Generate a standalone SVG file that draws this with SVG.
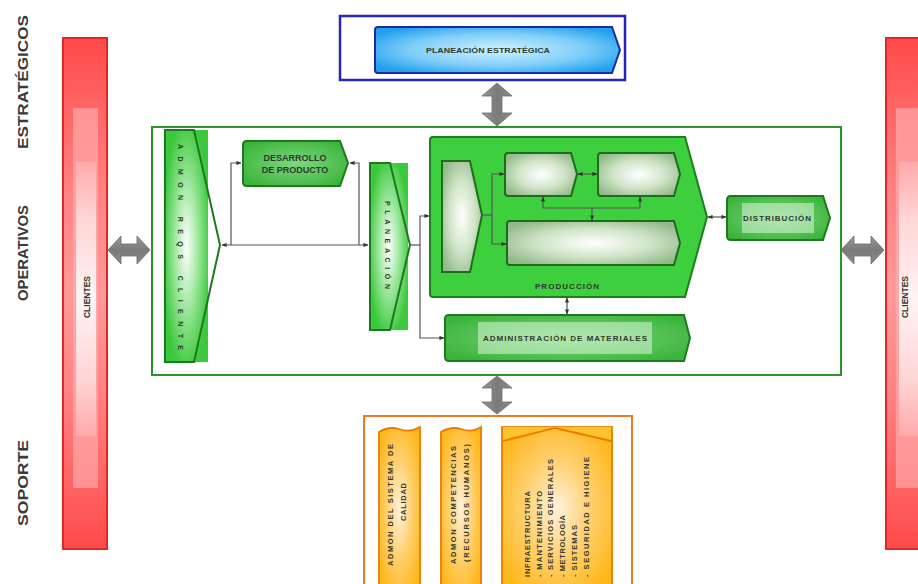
<svg xmlns="http://www.w3.org/2000/svg" width="918" height="584" viewBox="0 0 918 584">
  <style>
    .lbl { font-family: "Liberation Sans", Arial, sans-serif; font-weight: bold; fill: #2f3a2f; }
    .side { font-family: "Liberation Sans", Arial, sans-serif; font-weight: bold; font-size: 15px; fill: #3a3a3a; }
    .con { fill: none; stroke: #555; stroke-width: 1.2; marker-start: url(#tip); marker-end: url(#tip); }
    .conp { fill: none; stroke: #555; stroke-width: 1.2; }
    .gbox { stroke: #1c7a1c; stroke-width: 2; }
    .gray { fill: url(#grayArrow); stroke: #6a6a6a; stroke-width: 0.8; }
    .orng { fill: url(#orangeFill); stroke: #ec7a00; stroke-width: 1.8; }
  </style>
  <defs>
    <marker id="tip" viewBox="0 0 6 6" refX="5.5" refY="3" markerWidth="5" markerHeight="5" orient="auto-start-reverse" markerUnits="userSpaceOnUse">
      <path d="M0,0.5 L6,3 L0,5.5 Z" fill="#333"/>
    </marker>
    <linearGradient id="redBar" x1="0" y1="0" x2="0" y2="1">
      <stop offset="0" stop-color="#ff4a4a"/>
      <stop offset="0.12" stop-color="#ff6262"/>
      <stop offset="0.3" stop-color="#ff8282"/>
      <stop offset="0.5" stop-color="#ff9a9a"/>
      <stop offset="0.7" stop-color="#ff8282"/>
      <stop offset="0.88" stop-color="#ff6262"/>
      <stop offset="1" stop-color="#ff4a4a"/>
    </linearGradient>
    <linearGradient id="redGlow" x1="0" y1="0" x2="0" y2="1">
      <stop offset="0" stop-color="#ffd0d0" stop-opacity="0.3"/>
      <stop offset="0.2" stop-color="#ffdede" stop-opacity="0.85"/>
      <stop offset="0.5" stop-color="#fff4f4" stop-opacity="1"/>
      <stop offset="0.8" stop-color="#ffdede" stop-opacity="0.85"/>
      <stop offset="1" stop-color="#ffd0d0" stop-opacity="0.3"/>
    </linearGradient>
    <linearGradient id="grayArrow" x1="0" y1="0" x2="0" y2="1">
      <stop offset="0" stop-color="#9a9a9a"/>
      <stop offset="0.5" stop-color="#7a7a7a"/>
      <stop offset="1" stop-color="#8c8c8c"/>
    </linearGradient>
    <linearGradient id="grayArrowV" x1="0" y1="0" x2="1" y2="0">
      <stop offset="0" stop-color="#9a9a9a"/>
      <stop offset="0.5" stop-color="#7a7a7a"/>
      <stop offset="1" stop-color="#8c8c8c"/>
    </linearGradient>
    <radialGradient id="blueFill" cx="0.5" cy="0.5" r="0.6">
      <stop offset="0" stop-color="#d4f2ff"/>
      <stop offset="0.6" stop-color="#7ccdf8"/>
      <stop offset="1" stop-color="#22a0ec"/>
    </radialGradient>
    <radialGradient id="greenGlow" cx="0.5" cy="0.5" r="0.55">
      <stop offset="0" stop-color="#ffffff"/>
      <stop offset="0.45" stop-color="#a6eaa6"/>
      <stop offset="1" stop-color="#3cc83c"/>
    </radialGradient>
    <radialGradient id="greenBox" cx="0.5" cy="0.5" r="0.6">
      <stop offset="0" stop-color="#7ed87e"/>
      <stop offset="1" stop-color="#3cb43c"/>
    </radialGradient>
    <radialGradient id="paleBox" cx="0.5" cy="0.5" r="0.6">
      <stop offset="0" stop-color="#ffffff"/>
      <stop offset="0.55" stop-color="#cfe3c6"/>
      <stop offset="1" stop-color="#93b98a"/>
    </radialGradient>
    <radialGradient id="orangeFill" cx="0.5" cy="0.5" r="0.6">
      <stop offset="0" stop-color="#fff2dc"/>
      <stop offset="0.5" stop-color="#ffd070"/>
      <stop offset="1" stop-color="#ffb81c"/>
    </radialGradient>
  </defs>

  <rect width="918" height="584" fill="#ffffff"/>

  <!-- row titles -->
  <g id="row-labels">
    <text class="side" transform="translate(27.5,82) rotate(-90)" text-anchor="middle" textLength="134" lengthAdjust="spacingAndGlyphs">ESTRATÉGICOS</text>
    <text class="side" transform="translate(27.5,253) rotate(-90)" text-anchor="middle" textLength="96" lengthAdjust="spacingAndGlyphs">OPERATIVOS</text>
    <text class="side" transform="translate(27.5,483) rotate(-90)" text-anchor="middle" textLength="86" lengthAdjust="spacingAndGlyphs">SOPORTE</text>
  </g>

  <!-- customers, left -->
  <g id="clientes-izq">
    <rect x="63" y="38" width="44" height="511" fill="url(#redBar)" stroke="#e02828" stroke-width="2"/>
    <rect x="73" y="108" width="25" height="380" fill="#ffb2b2" opacity="0.6"/>
    <rect x="76" y="162" width="20" height="274" fill="url(#redGlow)"/>
    <text class="lbl" font-size="8.5" transform="translate(90,297) rotate(-90)" text-anchor="middle" fill="#333">CLIENTES</text>
  </g>

  <!-- customers, right -->
  <g id="clientes-der">
    <rect x="886" y="38" width="44" height="511" fill="url(#redBar)" stroke="#e02828" stroke-width="2"/>
    <rect x="896" y="108" width="25" height="380" fill="#ffb2b2" opacity="0.6"/>
    <rect x="899" y="162" width="20" height="274" fill="url(#redGlow)"/>
    <text class="lbl" font-size="8.5" transform="translate(908,297) rotate(-90)" text-anchor="middle" fill="#333">CLIENTES</text>
  </g>

  <!-- strategic planning -->
  <g id="estrategicos">
    <rect x="340" y="16" width="285" height="64" fill="#ffffff" stroke="#2424c4" stroke-width="2.5"/>
    <path d="M378,27 H612 L620,50 L612,73 H378 Q375,73 375,70 V30 Q375,27 378,27 Z" fill="url(#blueFill)" stroke="#1a2aa8" stroke-width="2"/>
    <text class="lbl" font-size="7" x="488" y="53" text-anchor="middle" textLength="124" lengthAdjust="spacingAndGlyphs" fill="#243a50">PLANEACIÓN ESTRATÉGICA</text>
  </g>

  <!-- operative frame -->
  <g id="operativos">
    <rect x="152" y="127" width="689" height="248" fill="#ffffff" stroke="#2a962a" stroke-width="2"/>
  </g>

  <g id="admon-reqs-cliente">
    <rect x="165" y="130" width="43" height="232" fill="url(#greenGlow)"/>
    <path d="M165,130 H194 L220,245 L194,362 H165 Z" fill="none" class="gbox"/>
    <text class="lbl" font-size="7" transform="translate(177.5,247) rotate(90)" text-anchor="middle" textLength="206" lengthAdjust="spacing" fill="#2a3a2a">ADMON REQS CLIENTE</text>
  </g>

  <g id="desarrollo-producto">
    <path d="M247,141 H340 L348,163 L340,186 H247 Q243,186 243,182 V145 Q243,141 247,141 Z" fill="url(#greenBox)" class="gbox"/>
    <text class="lbl" font-size="9" x="295" y="161" text-anchor="middle" fill="#2e3e2e">DESARROLLO</text>
    <text class="lbl" font-size="9" x="295" y="173" text-anchor="middle" fill="#2e3e2e">DE PRODUCTO</text>
  </g>

  <g id="planeacion">
    <rect x="370" y="163" width="38" height="167" fill="url(#greenGlow)"/>
    <path d="M370,163 H390 L410,245 L390,330 H370 Z" fill="none" class="gbox"/>
    <text class="lbl" font-size="7" transform="translate(384.5,245) rotate(90)" text-anchor="middle" textLength="88" lengthAdjust="spacing" fill="#2a3a2a">PLANEACIÓN</text>
  </g>

  <g id="produccion">
    <path d="M433,137 H685 L707,217 L685,297 H433 Q430,297 430,294 V140 Q430,137 433,137 Z" fill="#3ecf3e" stroke="#1c801c" stroke-width="2"/>
    <path d="M442,161 H470 L482,215 L470,272 H442 Z" fill="url(#paleBox)" stroke="#1c6e1c" stroke-width="2"/>
    <path d="M508,153 H571 L577,174 L571,196 H508 Q505,196 505,193 V156 Q505,153 508,153 Z" fill="url(#paleBox)" stroke="#1c6e1c" stroke-width="2"/>
    <path d="M601,153 H674 L680,174 L674,196 H601 Q598,196 598,193 V156 Q598,153 601,153 Z" fill="url(#paleBox)" stroke="#1c6e1c" stroke-width="2"/>
    <path d="M510,221 H674 L680,243 L674,265 H510 Q507,265 507,262 V224 Q507,221 510,221 Z" fill="url(#paleBox)" stroke="#1c6e1c" stroke-width="2"/>
    <text class="lbl" font-size="8" x="567" y="289" text-anchor="middle" textLength="64" lengthAdjust="spacing" fill="#1e4a1e">PRODUCCIÓN</text>
  </g>

  <g id="distribucion">
    <path d="M731,196 H823 L830,218 L823,240 H731 Q727,240 727,236 V200 Q727,196 731,196 Z" fill="url(#greenBox)" class="gbox"/>
    <rect x="742" y="203" width="72" height="30" fill="#d8f4d8" opacity="0.55"/>
    <text class="lbl" font-size="8" x="777" y="221" text-anchor="middle" textLength="68" lengthAdjust="spacing" fill="#2e3e2e">DISTRIBUCIÓN</text>
  </g>

  <g id="admin-materiales">
    <path d="M449,315 H684 L690,338 L684,361 H449 Q445,361 445,357 V319 Q445,315 449,315 Z" fill="url(#greenBox)" class="gbox"/>
    <rect x="478" y="322" width="174" height="32" fill="#d8f4d8" opacity="0.55"/>
    <text class="lbl" font-size="8" x="565" y="341" text-anchor="middle" textLength="164" lengthAdjust="spacing" fill="#2e3e2e">ADMINISTRACIÓN DE MATERIALES</text>
  </g>

  <!-- support processes -->
  <g id="soporte">
    <rect x="364" y="416" width="268" height="180" fill="#ffffff" stroke="#f07a20" stroke-width="2"/>
  </g>

  <g id="sistema-calidad">
    <path d="M379,432 Q389,426 399,429 Q410,433 420,427 V590 H379 Z" class="orng"/>
    <text class="lbl" font-size="7.5" transform="translate(392.5,505) rotate(-90)" text-anchor="middle" textLength="122" lengthAdjust="spacing" fill="#222">ADMON DEL SISTEMA DE</text>
    <text class="lbl" font-size="7.5" transform="translate(405.5,502) rotate(-90)" text-anchor="middle" textLength="38" lengthAdjust="spacing" fill="#222">CALIDAD</text>
  </g>

  <g id="competencias">
    <path d="M441,432 Q451,426 461,429 Q472,433 481,427 V590 H441 Z" class="orng"/>
    <text class="lbl" font-size="7.5" transform="translate(455.5,505) rotate(-90)" text-anchor="middle" textLength="118" lengthAdjust="spacing" fill="#222">ADMON COMPETENCIAS</text>
    <text class="lbl" font-size="7.5" transform="translate(468.5,503) rotate(-90)" text-anchor="middle" textLength="118" lengthAdjust="spacing" fill="#222">(RECURSOS HUMANOS)</text>
  </g>

  <g id="infraestructura">
    <rect x="502" y="427" width="110" height="163" class="orng"/>
    <path d="M503,427 H611 V441 L555,428 L503,441 Z" fill="#ffc42c"/>
    <path d="M503,441 L555,428 L611,441" fill="none" stroke="#ec7a00" stroke-width="1.8"/>
    <g class="lbl" font-size="7.5" fill="#222">
      <text transform="translate(529.5,577) rotate(-90)" textLength="86" lengthAdjust="spacing">INFRAESTRUCTURA</text>
      <text transform="translate(541.5,577) rotate(-90)" textLength="86" lengthAdjust="spacing">- MANTENIMIENTO</text>
      <text transform="translate(553,577) rotate(-90)" textLength="118" lengthAdjust="spacing">- SERVICIOS GENERALES</text>
      <text transform="translate(565,577) rotate(-90)" textLength="62" lengthAdjust="spacing">- METROLOGÍA</text>
      <text transform="translate(577,577) rotate(-90)" textLength="52" lengthAdjust="spacing">- SISTEMAS</text>
      <text transform="translate(589,577) rotate(-90)" textLength="120" lengthAdjust="spacing">- SEGURIDAD E HIGIENE</text>
    </g>
  </g>

  <!-- connectors -->
  <g id="conectores">
    <!-- exchange arrows between levels -->
    <path class="gray" d="M108,250 L121,236 V244 H137 V236 L150,250 L137,264 V256 H121 V264 Z"/>
    <path class="gray" d="M841,250 L854,236 V244 H871 V236 L884,250 L871,264 V256 H854 V264 Z"/>
    <path d="M497,83 L512,96 H502 V113 H512 L497,126 L482,113 H492 V96 H482 Z" fill="url(#grayArrowV)" stroke="#6a6a6a" stroke-width="0.8"/>
    <path d="M497,376 L512,388 H502 V402 H512 L497,414 L482,402 H492 V388 H482 Z" fill="url(#grayArrowV)" stroke="#6a6a6a" stroke-width="0.8"/>

    <!-- process flow -->
    <path class="con" d="M222,245 H368"/>
    <path class="conp" d="M231,245 V163 H241" marker-end="url(#tip)"/>
    <path class="conp" d="M350,163 H359 V245" marker-start="url(#tip)"/>
    <path class="conp" d="M410,245 H420"/>
    <path class="con" d="M429,216 H420 V338 H444"/>
    <path class="conp" d="M482,215 H492"/>
    <path class="con" d="M504,174 H492 V244 H506"/>
    <path class="con" d="M578,174 H597"/>
    <path class="con" d="M543,197 V208 H640 V197"/>
    <path class="conp" d="M592,208 V220" marker-end="url(#tip)"/>
    <path class="con" d="M708,217 H726"/>
    <path class="con" d="M567,298 V314"/>
  </g>
</svg>
